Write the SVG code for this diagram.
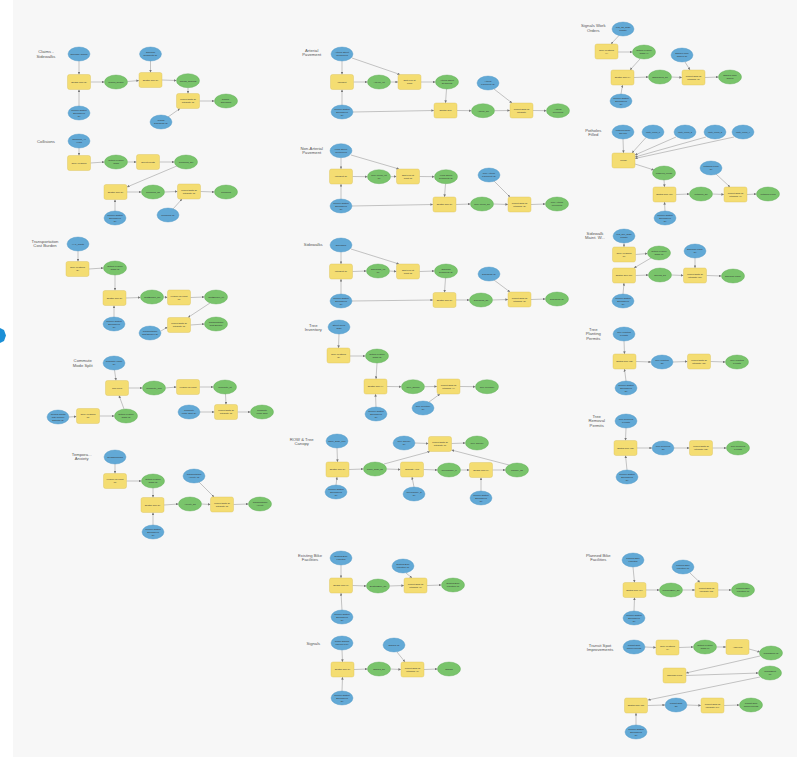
<svg xmlns="http://www.w3.org/2000/svg" width="797" height="760" viewBox="0 0 797 760">
<style>
.b{fill:#62a9d6;stroke:#4a92c2;stroke-width:0.4}
.g{fill:#79c46b;stroke:#5ea853;stroke-width:0.4}
.y{fill:#f4dd72;stroke:#d9bf58;stroke-width:0.4}
.n{font-family:"Liberation Sans",Arial,sans-serif;font-size:2.3px;fill:#333;text-anchor:middle}
.h{font-family:"Liberation Sans",Arial,sans-serif;font-size:4.2px;fill:#555;text-anchor:middle}
#edges line{stroke:#8c8c8c;stroke-width:0.5;marker-end:url(#a)}
</style>
<defs>
<marker id="a" viewBox="0 0 6 6" refX="6" refY="3" markerWidth="2.6" markerHeight="2.6" markerUnits="userSpaceOnUse" orient="auto"><path d="M0,0L6,3L0,6z" fill="#777"/></marker>
</defs>
<rect width="797" height="760" fill="#ffffff"/>
<rect x="13" y="0" width="784" height="757" fill="#f7f7f7"/>
<polygon points="0,328 4,330 6,335.5 4,341 0,343" fill="#1b8fd6"/>

<g id="titles">
<text class="h" x="46" y="53.2">Claims -<tspan x="46" dy="4.6">Sidewalks</tspan></text>
<text class="h" x="46" y="142.5">Collisions</text>
<text class="h" x="45" y="242.5">Transportation<tspan x="45" dy="4.6">Cost Burden</tspan></text>
<text class="h" x="82.7" y="362.2">Commute<tspan x="82.7" dy="4.6">Mode Split</tspan></text>
<text class="h" x="81.7" y="455.5">Tempora...<tspan x="81.7" dy="4.6">Anxiety</tspan></text>
<text class="h" x="311.7" y="51.5">Arterial<tspan x="311.7" dy="4.6">Pavement</tspan></text>
<text class="h" x="311.7" y="149.8">Non-Arterial<tspan x="311.7" dy="4.6">Pavement</tspan></text>
<text class="h" x="313.3" y="245.8">Sidewalks</text>
<text class="h" x="313.3" y="326.5">Tree<tspan x="313.3" dy="4.6">Inventory</tspan></text>
<text class="h" x="301.7" y="440.8">ROW &amp; Tree<tspan x="301.7" dy="4.6">Canopy</tspan></text>
<text class="h" x="310" y="556.5">Existing Bike<tspan x="310" dy="4.6">Facilities</tspan></text>
<text class="h" x="313.3" y="644.8">Signals</text>
<text class="h" x="593.3" y="27.2">Signals Work<tspan x="593.3" dy="4.6">Orders</tspan></text>
<text class="h" x="593.3" y="131.5">Potholes<tspan x="593.3" dy="4.6">Filled</tspan></text>
<text class="h" x="595" y="234.8">Sidewalk<tspan x="595" dy="4.6">Maint. W...</tspan></text>
<text class="h" x="593.3" y="330.8">Tree<tspan x="593.3" dy="4.6">Planting</tspan><tspan x="593.3" dy="4.6">Permits</tspan></text>
<text class="h" x="596.7" y="417.5">Tree<tspan x="596.7" dy="4.6">Removal</tspan><tspan x="596.7" dy="4.6">Permits</tspan></text>
<text class="h" x="598.3" y="556.5">Planned Bike<tspan x="598.3" dy="4.6">Facilities</tspan></text>
<text class="h" x="600" y="646.5">Transit Spot<tspan x="600" dy="4.6">Improvements</tspan></text>
</g>

<g id="edges">
<!-- Claims -->
<line x1="79" y1="61" x2="79" y2="74.5"/><line x1="79" y1="106" x2="79" y2="89.5"/>
<line x1="90.5" y1="82" x2="104.5" y2="82"/><line x1="127.5" y1="81.5" x2="139" y2="80.5"/>
<line x1="150.5" y1="61" x2="150.5" y2="72.5"/><line x1="162" y1="80" x2="176.5" y2="80.5"/>
<line x1="188" y1="87.7" x2="188" y2="93.5"/><line x1="168" y1="117" x2="180" y2="108.5"/>
<line x1="199.5" y1="101" x2="214.5" y2="101"/>
<!-- Collisions -->
<line x1="79" y1="148" x2="79" y2="155.5"/><line x1="90.5" y1="163" x2="104.5" y2="162"/>
<line x1="127.5" y1="162" x2="136.5" y2="162"/><line x1="159.5" y1="162" x2="174.5" y2="162"/>
<line x1="178" y1="165.5" x2="127" y2="187"/><line x1="127" y1="192" x2="141.5" y2="192"/>
<line x1="164.5" y1="192" x2="177.5" y2="191.5"/><line x1="200.5" y1="191.5" x2="214.5" y2="192"/>
<line x1="115" y1="211" x2="115" y2="199.5"/><line x1="173" y1="209" x2="182" y2="199"/>
<!-- Transportation -->
<line x1="78" y1="251" x2="78" y2="261.5"/><line x1="89" y1="269" x2="103.5" y2="268"/>
<line x1="115" y1="275" x2="115" y2="290.5"/><line x1="126" y1="298" x2="140.5" y2="297.5"/>
<line x1="163.5" y1="297" x2="167.5" y2="297.5"/><line x1="190.5" y1="297.5" x2="204.5" y2="297"/>
<line x1="210" y1="303" x2="188" y2="317.5"/><line x1="190.5" y1="325" x2="204.5" y2="324"/>
<line x1="114" y1="317" x2="114" y2="305.5"/><line x1="161" y1="331" x2="167.5" y2="327"/>
<!-- Commute -->
<line x1="114.5" y1="370" x2="116" y2="380.5"/><line x1="128.5" y1="388" x2="142.5" y2="388"/>
<line x1="165.5" y1="388" x2="176.5" y2="387"/><line x1="199.5" y1="387" x2="213.5" y2="387"/>
<line x1="225.5" y1="394" x2="226" y2="404.5"/><line x1="200" y1="412" x2="214.5" y2="412"/>
<line x1="237.5" y1="412" x2="250.5" y2="412"/><line x1="69" y1="417" x2="76.5" y2="416.5"/>
<line x1="99.5" y1="416" x2="114.5" y2="416"/><line x1="124" y1="409" x2="119" y2="395.5"/>
<!-- Tempora -->
<line x1="115" y1="464" x2="115" y2="473.5"/><line x1="126.5" y1="481" x2="141.5" y2="481"/>
<line x1="153" y1="488" x2="153" y2="497.5"/><line x1="164" y1="505" x2="178.5" y2="504"/>
<line x1="201.5" y1="504" x2="210.5" y2="504.5"/><line x1="233.5" y1="504.5" x2="248.5" y2="504"/>
<line x1="199" y1="482" x2="214" y2="497"/><line x1="153" y1="525" x2="153" y2="512.5"/>
<!-- Arterial -->
<line x1="342" y1="61" x2="342" y2="74.5"/><line x1="352" y1="58" x2="400" y2="74.5"/>
<line x1="353.5" y1="82" x2="367.5" y2="82"/><line x1="390.5" y1="82" x2="398" y2="82"/>
<line x1="421" y1="82" x2="435.5" y2="82"/><line x1="446.5" y1="89" x2="445.5" y2="103"/>
<line x1="342" y1="105" x2="342" y2="89.5"/><line x1="353" y1="112" x2="434" y2="110.5"/>
<line x1="457" y1="110.5" x2="471.5" y2="110.7"/><line x1="494.5" y1="110.7" x2="510" y2="110.5"/>
<line x1="494" y1="89" x2="512" y2="103"/><line x1="533" y1="110.5" x2="546.5" y2="110.7"/>
<!-- Non-Arterial -->
<line x1="341" y1="157.7" x2="341" y2="169"/><line x1="351" y1="155" x2="399" y2="169"/>
<line x1="352.5" y1="176.5" x2="367.5" y2="176.7"/><line x1="390.5" y1="176.7" x2="396.5" y2="176.5"/>
<line x1="419.5" y1="176.5" x2="434.5" y2="176.7"/><line x1="445.5" y1="183.7" x2="444.5" y2="197"/>
<line x1="341" y1="199" x2="341" y2="184"/><line x1="352" y1="206" x2="433" y2="204.5"/>
<line x1="456" y1="204.5" x2="470.5" y2="204"/><line x1="493.5" y1="204" x2="508" y2="204.5"/>
<line x1="494" y1="181" x2="510" y2="197"/><line x1="531" y1="204.5" x2="545.5" y2="204"/>
<!-- Sidewalks -->
<line x1="341" y1="252" x2="341" y2="264"/><line x1="351" y1="249" x2="399" y2="264"/>
<line x1="352.5" y1="271.5" x2="366.5" y2="271"/><line x1="389.5" y1="271" x2="396.5" y2="271.5"/>
<line x1="419.5" y1="271.5" x2="434.5" y2="271"/><line x1="445.5" y1="278" x2="444.5" y2="292.5"/>
<line x1="341" y1="294" x2="341" y2="279"/><line x1="352" y1="301" x2="433" y2="300"/>
<line x1="456" y1="300" x2="469.5" y2="300"/><line x1="492.5" y1="300" x2="508" y2="299.5"/>
<line x1="494" y1="280" x2="510" y2="292"/><line x1="531" y1="299.5" x2="545.5" y2="299"/>
<!-- Tree Inventory -->
<line x1="339" y1="334" x2="338.5" y2="348"/><line x1="350" y1="356" x2="365.5" y2="356"/>
<line x1="377" y1="363" x2="376" y2="379"/><line x1="387" y1="386.5" x2="401.5" y2="386.7"/>
<line x1="424.5" y1="386.7" x2="437" y2="386.5"/><line x1="460" y1="386.5" x2="475.5" y2="386.7"/>
<line x1="376" y1="407" x2="375.5" y2="394"/><line x1="429" y1="402" x2="440" y2="394"/>
<!-- ROW -->
<line x1="337" y1="448" x2="337.5" y2="462"/><line x1="349" y1="469.5" x2="363.5" y2="469"/>
<line x1="386.5" y1="469" x2="400.5" y2="469.5"/><line x1="384" y1="464" x2="430" y2="451.5"/>
<line x1="423.5" y1="469.5" x2="437.5" y2="470"/><line x1="460.5" y1="470" x2="469.5" y2="470"/>
<line x1="492.5" y1="470" x2="505.5" y2="470"/><line x1="509" y1="465" x2="451.5" y2="450"/>
<line x1="415" y1="443" x2="428.5" y2="443.5"/><line x1="451.5" y1="443.5" x2="465.5" y2="443"/>
<line x1="336" y1="485" x2="337" y2="477"/><line x1="414" y1="487" x2="412" y2="477"/>
<line x1="481" y1="491" x2="481" y2="477.5"/>
<!-- Existing Bike -->
<line x1="341" y1="565" x2="341" y2="578"/><line x1="342" y1="610" x2="341" y2="593"/>
<line x1="352.5" y1="585.5" x2="366.5" y2="586"/><line x1="389.5" y1="586" x2="404" y2="585.5"/>
<line x1="406" y1="573" x2="412" y2="578"/><line x1="427" y1="585.5" x2="441.5" y2="585"/>
<!-- Signals -->
<line x1="342" y1="650" x2="342.5" y2="662"/><line x1="342" y1="691" x2="342.5" y2="677"/>
<line x1="354" y1="669.5" x2="367.5" y2="669"/><line x1="390.5" y1="669" x2="401" y2="669.5"/>
<line x1="397" y1="652" x2="405" y2="662"/><line x1="424" y1="669.5" x2="437.5" y2="669"/>
<!-- Signals Work Orders -->
<line x1="619" y1="35.5" x2="611" y2="44"/><line x1="618" y1="52" x2="632.5" y2="52"/>
<line x1="640" y1="59" x2="630" y2="70"/><line x1="634" y1="77.5" x2="648.5" y2="77"/>
<line x1="671.5" y1="77" x2="682" y2="77.5"/><line x1="705" y1="77.5" x2="718.5" y2="77"/>
<line x1="685" y1="62" x2="690" y2="70"/><line x1="621" y1="94" x2="622.5" y2="85"/>
<!-- Potholes -->
<line x1="623" y1="139" x2="623.5" y2="153"/><line x1="646" y1="137.5" x2="632" y2="153"/>
<line x1="676" y1="137" x2="635" y2="155"/><line x1="706" y1="137" x2="635" y2="157"/>
<line x1="734" y1="137" x2="635" y2="158.5"/><line x1="635" y1="164" x2="654" y2="170"/>
<line x1="664" y1="180" x2="664.5" y2="187"/><line x1="676" y1="194.5" x2="689.5" y2="194"/>
<line x1="712.5" y1="194" x2="724" y2="194.5"/><line x1="747" y1="194.5" x2="756.5" y2="194"/>
<line x1="716" y1="174" x2="730" y2="187"/><line x1="665" y1="211" x2="664.5" y2="202"/>
<!-- Sidewalk Maint -->
<line x1="624" y1="243" x2="624" y2="247"/><line x1="635.5" y1="254.5" x2="647.5" y2="253.5"/>
<line x1="651" y1="258" x2="634" y2="268"/><line x1="635.5" y1="275.5" x2="648.5" y2="275"/>
<line x1="671.5" y1="275" x2="683.5" y2="275.5"/><line x1="706.5" y1="275.5" x2="721.5" y2="276"/>
<line x1="695" y1="258" x2="695" y2="268"/><line x1="623" y1="294" x2="624" y2="283"/>
<!-- Tree Planting -->
<line x1="624" y1="341" x2="624.5" y2="354"/><line x1="636" y1="361.5" x2="651" y2="362"/>
<line x1="673" y1="362" x2="687.5" y2="361.5"/><line x1="710.5" y1="361.5" x2="725.5" y2="362"/>
<line x1="626" y1="381" x2="624.5" y2="369"/>
<!-- Tree Removal -->
<line x1="626" y1="428" x2="625.5" y2="440.5"/><line x1="637" y1="448" x2="652" y2="448"/>
<line x1="674" y1="448" x2="689.5" y2="448"/><line x1="712.5" y1="448" x2="726.5" y2="448"/>
<line x1="627" y1="470" x2="625.5" y2="455.5"/>
<!-- Planned Bike -->
<line x1="633" y1="567" x2="634.5" y2="582.5"/><line x1="634" y1="611" x2="634.5" y2="597.5"/>
<line x1="646" y1="590" x2="659.5" y2="590"/><line x1="682.5" y1="590" x2="695" y2="590"/>
<line x1="690" y1="573" x2="700" y2="582.5"/><line x1="718" y1="590" x2="731.5" y2="590"/>
<!-- Transit -->
<line x1="645" y1="647" x2="656" y2="647.5"/><line x1="679" y1="647.5" x2="693.5" y2="647"/>
<line x1="716.5" y1="647" x2="726" y2="647"/><line x1="749" y1="649" x2="760" y2="652"/>
<line x1="760" y1="656" x2="686" y2="673"/><line x1="686" y1="675.5" x2="758.5" y2="673"/>
<line x1="760" y1="677" x2="648" y2="700"/><line x1="647.5" y1="705.5" x2="665" y2="705"/>
<line x1="687" y1="705" x2="701" y2="705.5"/><line x1="724" y1="705.5" x2="739.5" y2="705"/>
<line x1="636" y1="725" x2="636" y2="713"/>
</g>

<!-- Claims - Sidewalks -->
<g id="cs_in1"><ellipse class="b" cx="79" cy="54" rx="11" ry="7"/><text class="n" x="79" y="54.8">Sidewalk Claims</text></g>
<g id="cs_t1"><rect class="y" x="67.5" y="74.5" width="23" height="15" rx="2"/><text class="n" x="79" y="82.8">Spatial Join (2)</text></g>
<g id="cs_in2"><ellipse class="b" cx="79" cy="113" rx="11" ry="7"/><text class="n" x="79" y="111">Council District</text><text class="n" x="79" y="113.8">Boundaries</text><text class="n" x="79" y="116.6">(2)</text></g>
<g id="cs_o1"><ellipse class="g" cx="116" cy="82" rx="11.5" ry="7"/><text class="n" x="116" y="82.8">Claims_SpJoin</text></g>
<g id="cs_t2"><rect class="y" x="139" y="72.5" width="23" height="15" rx="2"/><text class="n" x="150.5" y="80.8">Spatial Join (3)</text></g>
<g id="cs_in3"><ellipse class="b" cx="150.5" cy="54" rx="11" ry="7"/><text class="n" x="150.5" y="53.4">Sidewalk</text><text class="n" x="150.5" y="56.2">Segments (2)</text></g>
<g id="cs_o2"><ellipse class="g" cx="188" cy="80.7" rx="11.5" ry="7"/><text class="n" x="188" y="81.5">Claims_SpJoin2</text></g>
<g id="cs_t3"><rect class="y" x="176.5" y="93.5" width="23" height="15" rx="2"/><text class="n" x="188" y="100.4">Project Data To</text><text class="n" x="188" y="103.2">Integrate (2)</text></g>
<g id="cs_o3"><ellipse class="g" cx="226" cy="101" rx="11.5" ry="7"/><text class="n" x="226" y="100.4">Claims -</text><text class="n" x="226" y="103.2">Sidewalks</text></g>
<g id="cs_in4"><ellipse class="b" cx="161" cy="122" rx="11" ry="7"/><text class="n" x="161" y="121.4">Claims</text><text class="n" x="161" y="124.2">Sidewalks (2)</text></g>

<!-- Collisions -->
<g id="co_in1"><ellipse class="b" cx="79" cy="141" rx="11" ry="7"/><text class="n" x="79" y="140.4">Collisions_All</text><text class="n" x="79" y="143.2">Years</text></g>
<g id="co_t1"><rect class="y" x="67.5" y="155.5" width="23" height="15" rx="2"/><text class="n" x="79" y="163.8">Copy Features</text></g>
<g id="co_o1"><ellipse class="g" cx="116" cy="162" rx="11.5" ry="7"/><text class="n" x="116" y="161.4">Output Feature</text><text class="n" x="116" y="164.2">Class</text></g>
<g id="co_t2"><rect class="y" x="136.5" y="154.5" width="23" height="15" rx="2"/><text class="n" x="148" y="162.8">Select Points</text></g>
<g id="co_o2"><ellipse class="g" cx="186" cy="162" rx="11.5" ry="7"/><text class="n" x="186" y="162.8">Collisions_Sel</text></g>
<g id="co_t3"><rect class="y" x="104" y="184.5" width="23" height="15" rx="2"/><text class="n" x="115.5" y="192.8">Spatial Join (2)</text></g>
<g id="co_o3"><ellipse class="g" cx="153" cy="192" rx="11.5" ry="7"/><text class="n" x="153" y="192.8">Collisions_SJ</text></g>
<g id="co_t4"><rect class="y" x="177.5" y="184" width="23" height="15" rx="2"/><text class="n" x="189" y="190.9">Project Data To</text><text class="n" x="189" y="193.7">Integrate (2)</text></g>
<g id="co_o4"><ellipse class="g" cx="226" cy="192" rx="11.5" ry="7"/><text class="n" x="226" y="192.8">Collisions</text></g>
<g id="co_in2"><ellipse class="b" cx="115" cy="218" rx="11" ry="7"/><text class="n" x="115" y="216">Council District</text><text class="n" x="115" y="218.8">Boundaries</text><text class="n" x="115" y="221.6">(2)</text></g>
<g id="co_in3"><ellipse class="b" cx="168" cy="215" rx="11" ry="7"/><text class="n" x="168" y="215.8">Collisions (2)</text></g>

<!-- Transportation Cost Burden -->
<g id="tc_in1"><ellipse class="b" cx="78" cy="244" rx="11" ry="7"/><text class="n" x="78" y="244.8">H+T_Tracts</text></g>
<g id="tc_t1"><rect class="y" x="66" y="261.5" width="23" height="15" rx="2"/><text class="n" x="77.5" y="268.4">Copy Features</text><text class="n" x="77.5" y="271.2">(2)</text></g>
<g id="tc_o1"><ellipse class="g" cx="115" cy="268" rx="11.5" ry="7"/><text class="n" x="115" y="267.4">Output Feature</text><text class="n" x="115" y="270.2">Class (2)</text></g>
<g id="tc_t2"><rect class="y" x="103" y="290.5" width="23" height="15" rx="2"/><text class="n" x="114.5" y="298.8">Spatial Join (2)</text></g>
<g id="tc_o2"><ellipse class="g" cx="152" cy="297" rx="11.5" ry="7"/><text class="n" x="152" y="297.8">CostBurden_SJ</text></g>
<g id="tc_t3"><rect class="y" x="167.5" y="290" width="23" height="15" rx="2"/><text class="n" x="179" y="296.9">Feature To Point</text><text class="n" x="179" y="299.7">(2)</text></g>
<g id="tc_o3"><ellipse class="g" cx="216" cy="297" rx="11.5" ry="7"/><text class="n" x="216" y="297.8">CostBurden_Pt</text></g>
<g id="tc_t4"><rect class="y" x="167.5" y="317.5" width="23" height="15" rx="2"/><text class="n" x="179" y="324.4">Project Data To</text><text class="n" x="179" y="327.2">Integrate (2)</text></g>
<g id="tc_o4"><ellipse class="g" cx="216" cy="324" rx="11.5" ry="7"/><text class="n" x="216" y="323.4">Transportation</text><text class="n" x="216" y="326.2">Cost Burden</text></g>
<g id="tc_in2"><ellipse class="b" cx="114" cy="324" rx="11" ry="7"/><text class="n" x="114" y="322">Council District</text><text class="n" x="114" y="324.8">Boundaries</text><text class="n" x="114" y="327.6">(2)</text></g>
<g id="tc_in3"><ellipse class="b" cx="150" cy="333" rx="11" ry="7"/><text class="n" x="150" y="332.4">Transportation</text><text class="n" x="150" y="335.2">Cost Burden (2)</text></g>

<!-- Commute Mode Split -->
<g id="cm_in1"><ellipse class="b" cx="114" cy="363" rx="11" ry="7"/><text class="n" x="114" y="362.4">Commute Mode</text><text class="n" x="114" y="365.2">(2)</text></g>
<g id="cm_t1"><rect class="y" x="105.5" y="380.5" width="23" height="15" rx="2"/><text class="n" x="117" y="388.8">Join Field</text></g>
<g id="cm_o1"><ellipse class="g" cx="154" cy="388" rx="11.5" ry="7"/><text class="n" x="154" y="388.8">Commute_Join</text></g>
<g id="cm_t2"><rect class="y" x="176.5" y="379.5" width="23" height="15" rx="2"/><text class="n" x="188" y="387.8">Feature To Point</text></g>
<g id="cm_o2"><ellipse class="g" cx="225" cy="387" rx="11.5" ry="7"/><text class="n" x="225" y="387.8">Commute_Pt</text></g>
<g id="cm_t3"><rect class="y" x="214.5" y="404.5" width="23" height="15" rx="2"/><text class="n" x="226" y="411.4">Project Data To</text><text class="n" x="226" y="414.2">Integrate (2)</text></g>
<g id="cm_o3"><ellipse class="g" cx="262" cy="412" rx="11.5" ry="7"/><text class="n" x="262" y="411.4">Commute</text><text class="n" x="262" y="414.2">Mode Split</text></g>
<g id="cm_in2"><ellipse class="b" cx="189" cy="412" rx="11" ry="7"/><text class="n" x="189" y="411.4">Commute</text><text class="n" x="189" y="414.2">Mode Split (2)</text></g>
<g id="cm_o4"><ellipse class="g" cx="126" cy="416" rx="11.5" ry="7"/><text class="n" x="126" y="415.4">Output Feature</text><text class="n" x="126" y="418.2">Class (2)</text></g>
<g id="cm_t4"><rect class="y" x="76.5" y="408.5" width="23" height="15" rx="2"/><text class="n" x="88" y="415.4">Copy Features</text><text class="n" x="88" y="418.2">(2)</text></g>
<g id="cm_in3"><ellipse class="b" cx="58" cy="417" rx="11" ry="7"/><text class="n" x="58" y="415">Census Tracts</text><text class="n" x="58" y="417.8">with Council</text><text class="n" x="58" y="420.6">Districts (2)</text></g>

<!-- Tempora... Anxiety -->
<g id="ta_in1"><ellipse class="b" cx="115" cy="457" rx="11" ry="7"/><text class="n" x="115" y="457.8">Neighborhoods</text></g>
<g id="ta_t1"><rect class="y" x="103.5" y="473.5" width="23" height="15" rx="2"/><text class="n" x="115" y="480.4">Feature To Point</text><text class="n" x="115" y="483.2">(2)</text></g>
<g id="ta_o1"><ellipse class="g" cx="153" cy="481" rx="11.5" ry="7"/><text class="n" x="153" y="480.4">Output Feature</text><text class="n" x="153" y="483.2">Class (2)</text></g>
<g id="ta_t2"><rect class="y" x="141" y="497.5" width="23" height="15" rx="2"/><text class="n" x="152.5" y="505.8">Spatial Join (2)</text></g>
<g id="ta_o2"><ellipse class="g" cx="190" cy="504" rx="11.5" ry="7"/><text class="n" x="190" y="504.8">Anxiety_SJ</text></g>
<g id="ta_t3"><rect class="y" x="210.5" y="497" width="23" height="15" rx="2"/><text class="n" x="222" y="503.9">Project Data To</text><text class="n" x="222" y="506.7">Integrate (2)</text></g>
<g id="ta_o3"><ellipse class="g" cx="260" cy="504" rx="11.5" ry="7"/><text class="n" x="260" y="503.4">Transportation</text><text class="n" x="260" y="506.2">Anxiety</text></g>
<g id="ta_in2"><ellipse class="b" cx="194" cy="476" rx="11" ry="7"/><text class="n" x="194" y="475.4">Transportation</text><text class="n" x="194" y="478.2">Anxiety (2)</text></g>
<g id="ta_in3"><ellipse class="b" cx="153" cy="532" rx="11" ry="7"/><text class="n" x="153" y="530">Council District</text><text class="n" x="153" y="532.8">Boundaries</text><text class="n" x="153" y="535.6">(2)</text></g>

<!-- Arterial Pavement -->
<g id="ap_in1"><ellipse class="b" cx="342" cy="54" rx="11" ry="7"/><text class="n" x="342" y="53.4">Arterial Street</text><text class="n" x="342" y="56.2">Centerlines</text></g>
<g id="ap_t1"><rect class="y" x="330.5" y="74.5" width="23" height="15" rx="2"/><text class="n" x="342" y="82.8">Intersect</text></g>
<g id="ap_o1"><ellipse class="g" cx="379" cy="82" rx="11.5" ry="7"/><text class="n" x="379" y="82.8">Arterial_Int</text></g>
<g id="ap_t2"><rect class="y" x="398" y="74.5" width="23" height="15" rx="2"/><text class="n" x="409.5" y="81.4">Split Line at</text><text class="n" x="409.5" y="84.2">Point</text></g>
<g id="ap_o2"><ellipse class="g" cx="447" cy="82" rx="11.5" ry="7"/><text class="n" x="447" y="81.4">Arterial Street</text><text class="n" x="447" y="84.2">Segments</text></g>
<g id="ap_in2"><ellipse class="b" cx="342" cy="112" rx="11" ry="7"/><text class="n" x="342" y="110">Council District</text><text class="n" x="342" y="112.8">Boundaries</text><text class="n" x="342" y="115.6">(2)</text></g>
<g id="ap_t3"><rect class="y" x="434" y="103" width="23" height="15" rx="2"/><text class="n" x="445.5" y="111.3">Spatial Join</text></g>
<g id="ap_o3"><ellipse class="g" cx="483" cy="110.7" rx="11.5" ry="7"/><text class="n" x="483" y="111.5">Arterial_SJ</text></g>
<g id="ap_t4"><rect class="y" x="510" y="103" width="23" height="15" rx="2"/><text class="n" x="521.5" y="109.9">Project Data To</text><text class="n" x="521.5" y="112.7">Integrate</text></g>
<g id="ap_o4"><ellipse class="g" cx="558" cy="110.7" rx="11.5" ry="7"/><text class="n" x="558" y="110.1">Arterial</text><text class="n" x="558" y="112.9">Pavement</text></g>
<g id="ap_in3"><ellipse class="b" cx="488" cy="83" rx="11" ry="7"/><text class="n" x="488" y="82.4">Arterial</text><text class="n" x="488" y="85.2">Pavement (2)</text></g>

<!-- Non-Arterial Pavement -->
<g id="na_in1"><ellipse class="b" cx="341" cy="150.7" rx="11" ry="7"/><text class="n" x="341" y="150.1">Local Street</text><text class="n" x="341" y="152.9">Centerlines</text></g>
<g id="na_t1"><rect class="y" x="329.5" y="169" width="23" height="15" rx="2"/><text class="n" x="341" y="177.3">Intersect (2)</text></g>
<g id="na_o1"><ellipse class="g" cx="379" cy="176.7" rx="11.5" ry="7"/><text class="n" x="379" y="176.1">NonArterial_Int</text><text class="n" x="379" y="178.9">(2)</text></g>
<g id="na_t2"><rect class="y" x="396.5" y="169" width="23" height="15" rx="2"/><text class="n" x="408" y="175.9">Split Line at</text><text class="n" x="408" y="178.7">Point (2)</text></g>
<g id="na_o2"><ellipse class="g" cx="446" cy="176.7" rx="11.5" ry="7"/><text class="n" x="446" y="176.1">Local Street</text><text class="n" x="446" y="178.9">Segments (2)</text></g>
<g id="na_in2"><ellipse class="b" cx="341" cy="206" rx="11" ry="7"/><text class="n" x="341" y="204">Council District</text><text class="n" x="341" y="206.8">Boundaries</text><text class="n" x="341" y="209.6">(2)</text></g>
<g id="na_t3"><rect class="y" x="433" y="197" width="23" height="15" rx="2"/><text class="n" x="444.5" y="205.3">Spatial Join (2)</text></g>
<g id="na_o3"><ellipse class="g" cx="482" cy="204" rx="11.5" ry="7"/><text class="n" x="482" y="204.8">NonArterial_SJ</text></g>
<g id="na_t4"><rect class="y" x="508" y="197" width="23" height="15" rx="2"/><text class="n" x="519.5" y="203.9">Project Data To</text><text class="n" x="519.5" y="206.7">Integrate (2)</text></g>
<g id="na_o4"><ellipse class="g" cx="557" cy="204" rx="11.5" ry="7"/><text class="n" x="557" y="203.4">Non-Arterial</text><text class="n" x="557" y="206.2">Pavement</text></g>
<g id="na_in3"><ellipse class="b" cx="489" cy="175" rx="11" ry="7"/><text class="n" x="489" y="174.4">Non-Arterial</text><text class="n" x="489" y="177.2">Pavement (2)</text></g>

<!-- Sidewalks -->
<g id="sw_in1"><ellipse class="b" cx="341" cy="245" rx="11" ry="7"/><text class="n" x="341" y="245.8">Sidewalks</text></g>
<g id="sw_t1"><rect class="y" x="329.5" y="264" width="23" height="15" rx="2"/><text class="n" x="341" y="272.3">Intersect (3)</text></g>
<g id="sw_o1"><ellipse class="g" cx="378" cy="271" rx="11.5" ry="7"/><text class="n" x="378" y="270.4">Sidewalks_Int</text><text class="n" x="378" y="273.2">(2)</text></g>
<g id="sw_t2"><rect class="y" x="396.5" y="264" width="23" height="15" rx="2"/><text class="n" x="408" y="270.9">Split Line at</text><text class="n" x="408" y="273.7">Point (2)</text></g>
<g id="sw_o2"><ellipse class="g" cx="446" cy="271" rx="11.5" ry="7"/><text class="n" x="446" y="270.4">Sidewalk</text><text class="n" x="446" y="273.2">Segments (2)</text></g>
<g id="sw_in2"><ellipse class="b" cx="341" cy="301" rx="11" ry="7"/><text class="n" x="341" y="299">Council District</text><text class="n" x="341" y="301.8">Boundaries</text><text class="n" x="341" y="304.6">(2)</text></g>
<g id="sw_t3"><rect class="y" x="433" y="292.5" width="23" height="15" rx="2"/><text class="n" x="444.5" y="300.8">Spatial Join (3)</text></g>
<g id="sw_o3"><ellipse class="g" cx="481" cy="300" rx="11.5" ry="7"/><text class="n" x="481" y="300.8">Sidewalks_SJ</text></g>
<g id="sw_t4"><rect class="y" x="508" y="292" width="23" height="15" rx="2"/><text class="n" x="519.5" y="298.9">Project Data To</text><text class="n" x="519.5" y="301.7">Integrate (3)</text></g>
<g id="sw_o4"><ellipse class="g" cx="557" cy="299" rx="11.5" ry="7"/><text class="n" x="557" y="299.8">Sidewalks (3)</text></g>
<g id="sw_in3"><ellipse class="b" cx="489" cy="274" rx="11" ry="7"/><text class="n" x="489" y="274.8">Sidewalks (2)</text></g>

<!-- Tree Inventory -->
<g id="ti_in1"><ellipse class="b" cx="339" cy="327" rx="11" ry="7"/><text class="n" x="339" y="326.4">Street Trees</text><text class="n" x="339" y="329.2">2020</text></g>
<g id="ti_t1"><rect class="y" x="327" y="348" width="23" height="15" rx="2"/><text class="n" x="338.5" y="354.9">Copy Features</text><text class="n" x="338.5" y="357.7">(3)</text></g>
<g id="ti_o1"><ellipse class="g" cx="377" cy="356" rx="11.5" ry="7"/><text class="n" x="377" y="355.4">Output Feature</text><text class="n" x="377" y="358.2">Class (3)</text></g>
<g id="ti_t2"><rect class="y" x="364" y="379" width="23" height="15" rx="2"/><text class="n" x="375.5" y="387.3">Spatial Join (4)</text></g>
<g id="ti_o2"><ellipse class="g" cx="413" cy="386.7" rx="11.5" ry="7"/><text class="n" x="413" y="387.5">Tree_SpJoin</text></g>
<g id="ti_t3"><rect class="y" x="437" y="379" width="23" height="15" rx="2"/><text class="n" x="448.5" y="385.9">Project Data To</text><text class="n" x="448.5" y="388.7">Integrate (4)</text></g>
<g id="ti_o3"><ellipse class="g" cx="487" cy="386.7" rx="11.5" ry="7"/><text class="n" x="487" y="387.5">Tree Inventory</text></g>
<g id="ti_in2"><ellipse class="b" cx="376" cy="414" rx="11" ry="7"/><text class="n" x="376" y="412">Council District</text><text class="n" x="376" y="414.8">Boundaries</text><text class="n" x="376" y="417.6">(2)</text></g>
<g id="ti_in3"><ellipse class="b" cx="423" cy="408" rx="11" ry="7"/><text class="n" x="423" y="407.4">Tree Inventory</text><text class="n" x="423" y="410.2">(2)</text></g>

<!-- ROW & Tree Canopy -->
<g id="rw_in1"><ellipse class="b" cx="337" cy="441" rx="11" ry="7"/><text class="n" x="337" y="441.8">ROW_2020_Poly</text></g>
<g id="rw_t1"><rect class="y" x="326" y="462" width="23" height="15" rx="2"/><text class="n" x="337.5" y="470.3">Spatial Join (5)</text></g>
<g id="rw_o1"><ellipse class="g" cx="375" cy="469" rx="11.5" ry="7"/><text class="n" x="375" y="469.8">ROW_2020_SJ</text></g>
<g id="rw_t2"><rect class="y" x="400.5" y="462" width="23" height="15" rx="2"/><text class="n" x="412" y="470.3">Tabulate Area</text></g>
<g id="rw_o2"><ellipse class="g" cx="449" cy="470" rx="11.5" ry="7"/><text class="n" x="449" y="470.8">TreeCanopy_T</text></g>
<g id="rw_t3"><rect class="y" x="469.5" y="462.5" width="23" height="15" rx="2"/><text class="n" x="481" y="470.8">Spatial Join (6)</text></g>
<g id="rw_o3"><ellipse class="g" cx="517" cy="470" rx="11.5" ry="7"/><text class="n" x="517" y="470.8">Canopy_SJ</text></g>
<g id="rw_t4"><rect class="y" x="428.5" y="436.5" width="23" height="15" rx="2"/><text class="n" x="440" y="443.4">Project Data To</text><text class="n" x="440" y="446.2">Integrate (5)</text></g>
<g id="rw_o4"><ellipse class="g" cx="477" cy="443" rx="11.5" ry="7"/><text class="n" x="477" y="443.8">Tree Canopy</text></g>
<g id="rw_in2"><ellipse class="b" cx="404" cy="443" rx="11" ry="7"/><text class="n" x="404" y="442.4">Tree Canopy</text><text class="n" x="404" y="445.2">(2)</text></g>
<g id="rw_in3"><ellipse class="b" cx="336" cy="492" rx="11" ry="7"/><text class="n" x="336" y="490">Council District</text><text class="n" x="336" y="492.8">Boundaries</text><text class="n" x="336" y="495.6">(2)</text></g>
<g id="rw_in4"><ellipse class="b" cx="414" cy="494" rx="11" ry="7"/><text class="n" x="414" y="493.4">TreeCanopy_2</text><text class="n" x="414" y="496.2">(2)</text></g>
<g id="rw_in5"><ellipse class="b" cx="481" cy="498" rx="11" ry="7"/><text class="n" x="481" y="496">Council District</text><text class="n" x="481" y="498.8">Boundaries</text><text class="n" x="481" y="501.6">(3)</text></g>

<!-- Existing Bike Facilities -->
<g id="eb_in1"><ellipse class="b" cx="341" cy="558" rx="11" ry="7"/><text class="n" x="341" y="557.4">Existing Bike</text><text class="n" x="341" y="560.2">Facilities</text></g>
<g id="eb_t1"><rect class="y" x="329.5" y="578" width="23" height="15" rx="2"/><text class="n" x="341" y="586.3">Spatial Join (7)</text></g>
<g id="eb_o1"><ellipse class="g" cx="378" cy="586" rx="11.5" ry="7"/><text class="n" x="378" y="586.8">ExistingBike_SJ</text></g>
<g id="eb_t2"><rect class="y" x="404" y="578" width="23" height="15" rx="2"/><text class="n" x="415.5" y="584.9">Project Data To</text><text class="n" x="415.5" y="587.7">Integrate (6)</text></g>
<g id="eb_o2"><ellipse class="g" cx="453" cy="585" rx="11.5" ry="7"/><text class="n" x="453" y="584.4">Existing Bike</text><text class="n" x="453" y="587.2">Facilities (2)</text></g>
<g id="eb_in2"><ellipse class="b" cx="403" cy="566" rx="11" ry="7"/><text class="n" x="403" y="565.4">Existing Bike</text><text class="n" x="403" y="568.2">Facilities (3)</text></g>
<g id="eb_in3"><ellipse class="b" cx="342" cy="617" rx="11" ry="7"/><text class="n" x="342" y="615">Council District</text><text class="n" x="342" y="617.8">Boundaries</text><text class="n" x="342" y="620.6">(2)</text></g>

<!-- Signals -->
<g id="sg_in1"><ellipse class="b" cx="342" cy="643" rx="11" ry="7"/><text class="n" x="342" y="642.4">Traffic Signals</text><text class="n" x="342" y="645.2">Maximo Poly</text></g>
<g id="sg_t1"><rect class="y" x="331" y="662" width="23" height="15" rx="2"/><text class="n" x="342.5" y="670.3">Spatial Join (8)</text></g>
<g id="sg_o1"><ellipse class="g" cx="379" cy="669" rx="11.5" ry="7"/><text class="n" x="379" y="669.8">Signals_SJ</text></g>
<g id="sg_t2"><rect class="y" x="401" y="662" width="23" height="15" rx="2"/><text class="n" x="412.5" y="668.9">Project Data To</text><text class="n" x="412.5" y="671.7">Integrate (7)</text></g>
<g id="sg_o2"><ellipse class="g" cx="449" cy="669" rx="11.5" ry="7"/><text class="n" x="449" y="669.8">Signals</text></g>
<g id="sg_in2"><ellipse class="b" cx="394" cy="645" rx="11" ry="7"/><text class="n" x="394" y="645.8">Signals (2)</text></g>
<g id="sg_in3"><ellipse class="b" cx="342" cy="698" rx="11" ry="7"/><text class="n" x="342" y="696">Council District</text><text class="n" x="342" y="698.8">Boundaries</text><text class="n" x="342" y="701.6">(2)</text></g>

<!-- Signals Work Orders -->
<g id="wo_in1"><ellipse class="b" cx="623" cy="29" rx="11" ry="7"/><text class="n" x="623" y="28.4">WO_TS_2020</text><text class="n" x="623" y="31.2">Update</text></g>
<g id="wo_t1"><rect class="y" x="595" y="44" width="23" height="15" rx="2"/><text class="n" x="606.5" y="50.9">Copy Features</text><text class="n" x="606.5" y="53.7">(4)</text></g>
<g id="wo_o1"><ellipse class="g" cx="644" cy="52" rx="11.5" ry="7"/><text class="n" x="644" y="51.4">Output Feature</text><text class="n" x="644" y="54.2">Class (4)</text></g>
<g id="wo_t2"><rect class="y" x="611" y="70" width="23" height="15" rx="2"/><text class="n" x="622.5" y="78.3">Spatial Join (9)</text></g>
<g id="wo_o2"><ellipse class="g" cx="660" cy="77" rx="11.5" ry="7"/><text class="n" x="660" y="77.8">SignalsWO_SJ</text></g>
<g id="wo_t3"><rect class="y" x="682" y="70" width="23" height="15" rx="2"/><text class="n" x="693.5" y="76.9">Project Data To</text><text class="n" x="693.5" y="79.7">Integrate (8)</text></g>
<g id="wo_o3"><ellipse class="g" cx="730" cy="77" rx="11.5" ry="7"/><text class="n" x="730" y="76.4">Signals Work</text><text class="n" x="730" y="79.2">Orders</text></g>
<g id="wo_in2"><ellipse class="b" cx="682" cy="55" rx="11" ry="7"/><text class="n" x="682" y="54.4">Signals Work</text><text class="n" x="682" y="57.2">Orders (2)</text></g>
<g id="wo_in3"><ellipse class="b" cx="621" cy="101" rx="11" ry="7"/><text class="n" x="621" y="99">Council District</text><text class="n" x="621" y="101.8">Boundaries</text><text class="n" x="621" y="104.6">(2)</text></g>

<!-- Potholes Filled -->
<g id="pf_in1"><ellipse class="b" cx="623" cy="132" rx="11" ry="7"/><text class="n" x="623" y="131.4">Potholes 2016</text><text class="n" x="623" y="134.2">Jan-Jun</text></g>
<g id="pf_in2"><ellipse class="b" cx="653" cy="132" rx="11" ry="7"/><text class="n" x="653" y="132.8">Wotr_Lines_1</text></g>
<g id="pf_in3"><ellipse class="b" cx="685" cy="132" rx="11" ry="7"/><text class="n" x="685" y="132.8">Wotr_Lines_2</text></g>
<g id="pf_in4"><ellipse class="b" cx="715" cy="132" rx="11" ry="7"/><text class="n" x="715" y="132.8">Wotr_Lines_3</text></g>
<g id="pf_in5"><ellipse class="b" cx="743" cy="132" rx="11" ry="7"/><text class="n" x="743" y="132.8">Wotr_Lines_4</text></g>
<g id="pf_t1"><rect class="y" x="612" y="153" width="23" height="15" rx="2"/><text class="n" x="623.5" y="161.3">Merge</text></g>
<g id="pf_o1"><ellipse class="g" cx="664" cy="173" rx="11.5" ry="7"/><text class="n" x="664" y="173.8">Potholes_Merge</text></g>
<g id="pf_t2"><rect class="y" x="653" y="187" width="23" height="15" rx="2"/><text class="n" x="664.5" y="195.3">Spatial Join (10)</text></g>
<g id="pf_o2"><ellipse class="g" cx="701" cy="194" rx="11.5" ry="7"/><text class="n" x="701" y="194.8">Potholes_SJ</text></g>
<g id="pf_t3"><rect class="y" x="724" y="187" width="23" height="15" rx="2"/><text class="n" x="735.5" y="193.9">Project Data To</text><text class="n" x="735.5" y="196.7">Integrate (9)</text></g>
<g id="pf_o3"><ellipse class="g" cx="768" cy="194" rx="11.5" ry="7"/><text class="n" x="768" y="194.8">Potholes Filled</text></g>
<g id="pf_in6"><ellipse class="b" cx="711" cy="168" rx="11" ry="7"/><text class="n" x="711" y="167.4">Potholes Filled</text><text class="n" x="711" y="170.2">(2)</text></g>
<g id="pf_in7"><ellipse class="b" cx="665" cy="218" rx="11" ry="7"/><text class="n" x="665" y="216">Council District</text><text class="n" x="665" y="218.8">Boundaries</text><text class="n" x="665" y="221.6">(2)</text></g>

<!-- Sidewalk Maint. W... -->
<g id="sm_in1"><ellipse class="b" cx="624" cy="236" rx="11" ry="7"/><text class="n" x="624" y="235.4">WO_SW_2020</text><text class="n" x="624" y="238.2">Update</text></g>
<g id="sm_t1"><rect class="y" x="612.5" y="247" width="23" height="15" rx="2"/><text class="n" x="624" y="253.9">Copy Features</text><text class="n" x="624" y="256.7">(5)</text></g>
<g id="sm_o1"><ellipse class="g" cx="659" cy="253" rx="11.5" ry="7"/><text class="n" x="659" y="252.4">Output Feature</text><text class="n" x="659" y="255.2">Class (5)</text></g>
<g id="sm_t2"><rect class="y" x="612.5" y="268" width="23" height="15" rx="2"/><text class="n" x="624" y="276.3">Spatial Join (11)</text></g>
<g id="sm_o2"><ellipse class="g" cx="660" cy="275" rx="11.5" ry="7"/><text class="n" x="660" y="275.8">SWWO_SJ</text></g>
<g id="sm_t3"><rect class="y" x="683.5" y="268" width="23" height="15" rx="2"/><text class="n" x="695" y="274.9">Project Data To</text><text class="n" x="695" y="277.7">Integrate (10)</text></g>
<g id="sm_o3"><ellipse class="g" cx="733" cy="276" rx="11.5" ry="7"/><text class="n" x="733" y="276.8">Sidewalk Maint.</text></g>
<g id="sm_in2"><ellipse class="b" cx="695" cy="251" rx="11" ry="7"/><text class="n" x="695" y="250.4">Sidewalk Maint.</text><text class="n" x="695" y="253.2">(2)</text></g>
<g id="sm_in3"><ellipse class="b" cx="623" cy="301" rx="11" ry="7"/><text class="n" x="623" y="299">Council District</text><text class="n" x="623" y="301.8">Boundaries</text><text class="n" x="623" y="304.6">(2)</text></g>

<!-- Tree Planting Permits -->
<g id="tp_in1"><ellipse class="b" cx="624" cy="334" rx="11" ry="7"/><text class="n" x="624" y="333.4">Tree Planting</text><text class="n" x="624" y="336.2">Permits</text></g>
<g id="tp_t1"><rect class="y" x="613" y="354" width="23" height="15" rx="2"/><text class="n" x="624.5" y="362.3">Spatial Join (12)</text></g>
<g id="tp_o1"><ellipse class="b" cx="662" cy="362" rx="11" ry="7"/><text class="n" x="662" y="361.4">Tree Planting</text><text class="n" x="662" y="364.2">SJ</text></g>
<g id="tp_t2"><rect class="y" x="687.5" y="354" width="23" height="15" rx="2"/><text class="n" x="699" y="360.9">Project Data To</text><text class="n" x="699" y="363.7">Integrate (11)</text></g>
<g id="tp_o2"><ellipse class="g" cx="737" cy="362" rx="11.5" ry="7"/><text class="n" x="737" y="361.4">Tree Planting</text><text class="n" x="737" y="364.2">Permits</text></g>
<g id="tp_in2"><ellipse class="b" cx="626" cy="388" rx="11" ry="7"/><text class="n" x="626" y="386">Council District</text><text class="n" x="626" y="388.8">Boundaries</text><text class="n" x="626" y="391.6">(2)</text></g>

<!-- Tree Removal Permits -->
<g id="tr_in1"><ellipse class="b" cx="626" cy="421" rx="11" ry="7"/><text class="n" x="626" y="420.4">Tree Removal</text><text class="n" x="626" y="423.2">Permits</text></g>
<g id="tr_t1"><rect class="y" x="614" y="440.5" width="23" height="15" rx="2"/><text class="n" x="625.5" y="448.8">Spatial Join (13)</text></g>
<g id="tr_o1"><ellipse class="b" cx="663" cy="448" rx="11" ry="7"/><text class="n" x="663" y="447.4">Tree Removal</text><text class="n" x="663" y="450.2">SJ</text></g>
<g id="tr_t2"><rect class="y" x="689.5" y="440.5" width="23" height="15" rx="2"/><text class="n" x="701" y="447.4">Project Data To</text><text class="n" x="701" y="450.2">Integrate (12)</text></g>
<g id="tr_o2"><ellipse class="g" cx="738" cy="448" rx="11.5" ry="7"/><text class="n" x="738" y="447.4">Tree Removal</text><text class="n" x="738" y="450.2">Permits</text></g>
<g id="tr_in2"><ellipse class="b" cx="627" cy="477" rx="11" ry="7"/><text class="n" x="627" y="475">Council District</text><text class="n" x="627" y="477.8">Boundaries</text><text class="n" x="627" y="480.6">(2)</text></g>

<!-- Planned Bike Facilities -->
<g id="pb_in1"><ellipse class="b" cx="633" cy="560" rx="11" ry="7"/><text class="n" x="633" y="559.4">Planned Bike</text><text class="n" x="633" y="562.2">Facilities</text></g>
<g id="pb_t1"><rect class="y" x="623" y="582.5" width="23" height="15" rx="2"/><text class="n" x="634.5" y="590.8">Spatial Join (14)</text></g>
<g id="pb_o1"><ellipse class="g" cx="671" cy="590" rx="11.5" ry="7"/><text class="n" x="671" y="590.8">PlannedBike_SJ</text></g>
<g id="pb_t2"><rect class="y" x="695" y="582.5" width="23" height="15" rx="2"/><text class="n" x="706.5" y="589.4">Project Data To</text><text class="n" x="706.5" y="592.2">Integrate (13)</text></g>
<g id="pb_o2"><ellipse class="g" cx="743" cy="590" rx="11.5" ry="7"/><text class="n" x="743" y="589.4">Planned Bike</text><text class="n" x="743" y="592.2">Facilities (2)</text></g>
<g id="pb_in2"><ellipse class="b" cx="683" cy="567" rx="11" ry="7"/><text class="n" x="683" y="566.4">Planned Bike</text><text class="n" x="683" y="569.2">Facilities (3)</text></g>
<g id="pb_in3"><ellipse class="b" cx="634" cy="618" rx="11" ry="7"/><text class="n" x="634" y="616">Council District</text><text class="n" x="634" y="618.8">Boundaries</text><text class="n" x="634" y="621.6">(2)</text></g>

<!-- Transit Spot Improvements -->
<g id="ts_in1"><ellipse class="b" cx="634" cy="647" rx="11" ry="7"/><text class="n" x="634" y="646.4">Transit Spot</text><text class="n" x="634" y="649.2">Improvements</text></g>
<g id="ts_t1"><rect class="y" x="656" y="640" width="23" height="15" rx="2"/><text class="n" x="667.5" y="646.9">Copy Features</text><text class="n" x="667.5" y="649.7">(6)</text></g>
<g id="ts_o1"><ellipse class="g" cx="705" cy="647" rx="11.5" ry="7"/><text class="n" x="705" y="646.4">Output Feature</text><text class="n" x="705" y="649.2">Class (6)</text></g>
<g id="ts_t2"><rect class="y" x="726" y="639.5" width="23" height="15" rx="2"/><text class="n" x="737.5" y="647.8">Add Field</text></g>
<g id="ts_o2"><ellipse class="g" cx="771" cy="653" rx="11.5" ry="7"/><text class="n" x="771" y="653.8">TransitSpot (2)</text></g>
<g id="ts_t3"><rect class="y" x="663" y="668" width="23" height="15" rx="2"/><text class="n" x="674.5" y="676.3">Calculate Field</text></g>
<g id="ts_o3"><ellipse class="g" cx="770" cy="673" rx="11.5" ry="7"/><text class="n" x="770" y="672.4">TransitSpot</text><text class="n" x="770" y="675.2">(3)</text></g>
<g id="ts_t4"><rect class="y" x="624.5" y="698" width="23" height="15" rx="2"/><text class="n" x="636" y="706.3">Spatial Join (15)</text></g>
<g id="ts_o4"><ellipse class="b" cx="676" cy="705" rx="11" ry="7"/><text class="n" x="676" y="704.4">Transit Spot</text><text class="n" x="676" y="707.2">SJ</text></g>
<g id="ts_t5"><rect class="y" x="701" y="698" width="23" height="15" rx="2"/><text class="n" x="712.5" y="704.9">Project Data To</text><text class="n" x="712.5" y="707.7">Integrate (14)</text></g>
<g id="ts_o5"><ellipse class="g" cx="751" cy="705" rx="11.5" ry="7"/><text class="n" x="751" y="704.4">Transit Spot</text><text class="n" x="751" y="707.2">Improvements</text></g>
<g id="ts_in2"><ellipse class="b" cx="636" cy="732" rx="11" ry="7"/><text class="n" x="636" y="730">Council District</text><text class="n" x="636" y="732.8">Boundaries</text><text class="n" x="636" y="735.6">(2)</text></g>
</svg>
